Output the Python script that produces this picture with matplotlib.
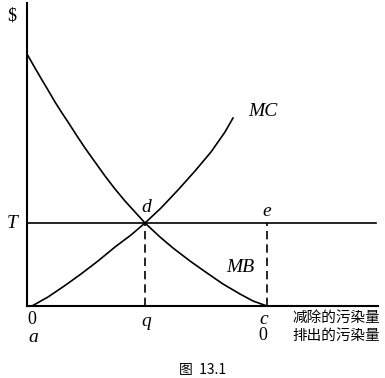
import matplotlib.pyplot as plt

# curve points (units: pixels from origin)
mb_x = [0, 8, 15, 21, 28, 35, 41, 50, 58, 68, 78, 88, 98, 108, 118,
        133, 146, 163, 180, 196, 213, 226, 240]
mb_y = [252, 238, 226, 216, 204, 193, 184, 170, 158, 144, 130, 117, 105, 94, 83,
        69, 58, 45, 33, 22, 12, 5, 0]
mc_x = [5, 21, 38, 54, 71, 88, 104, 118, 134, 151, 168, 184, 198, 206]
mc_y = [0, 9, 20.5, 32, 45, 59, 71, 83, 98, 116, 135, 154, 174, 188]
T = 83
q = 118
c = 240

W, H = 385, 378
fig = plt.figure(figsize=(W / 100, H / 100), dpi=100)
ax = fig.add_axes([27 / W, (H - 306) / H, 351 / W, 303 / H])
ax.set_xlim(0, 351)
ax.set_ylim(0, 303)
for s in ['top', 'right']:
    ax.spines[s].set_visible(False)
for s in ['left', 'bottom']:
    ax.spines[s].set_linewidth(1.5)
ax.set_xticks([])
ax.set_yticks([])

ax.plot(mb_x, mb_y, color='black', lw=1.2)
ax.plot(mc_x, mc_y, color='black', lw=1.2)
ax.plot([0, 349], [T, T], color='black', lw=1.2)
ax.plot([q, q], [0, T], color='black', lw=1.2, ls=(0, (5, 3)))
ax.plot([c, c], [0, T], color='black', lw=1.2, ls=(0, (5, 3)))

serif = 'Liberation Serif'
it = dict(family=serif, style='italic', fontsize=14, ha='center', va='center')
up = dict(family=serif, fontsize=13, ha='center', va='center')
ax.text(-15, 290, '$', **up)
ax.text(-15, T, 'T', **it)
ax.text(236, 194, 'MC', **it)
ax.text(213, 38, 'MB', **it)
ax.text(q + 1, 99, 'd', **it)
ax.text(c, 94, 'e', **it)
ax.text(5, -14, '0', **up)
ax.text(q + 1, -16, 'q', **it)
ax.text(c - 3, -14, 'c', **it)
ax.text(6, -31, 'a', **it)
ax.text(c - 4, -30, '0', **up)

cjk = 'Noto Sans CJK SC'
ax.text(265, -12, '减除的污染量', family=cjk, fontsize=10.5, ha='left', va='center')
ax.text(265, -30, '排出的污染量', family=cjk, fontsize=10.5, ha='left', va='center')
ax.text(176, -64, '图  13.1', family=[cjk, 'DejaVu Sans'], fontsize=10, ha='center', va='center')

plt.savefig('out.png', dpi=100)
